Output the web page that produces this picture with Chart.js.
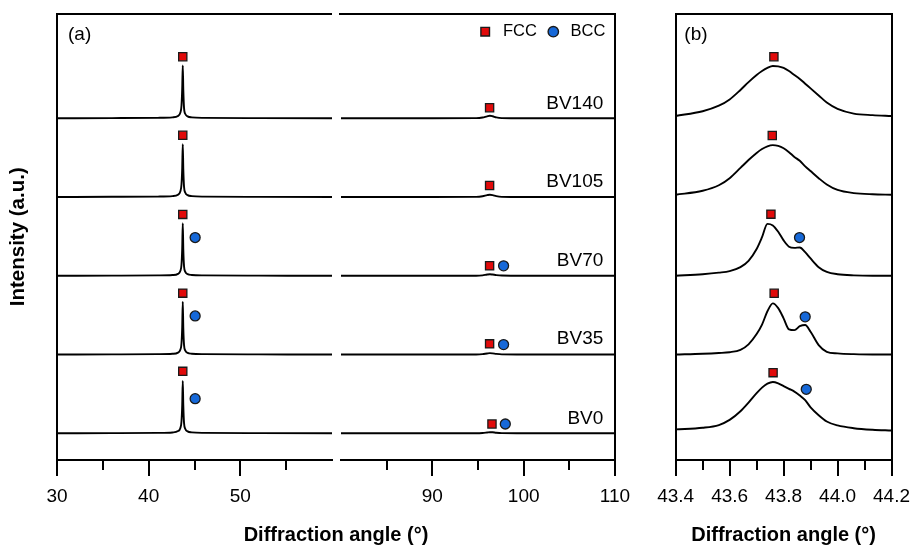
<!DOCTYPE html>
<html>
<head>
<meta charset="utf-8">
<script src="https://cdn.jsdelivr.net/npm/chart.js@4.4.0/dist/chart.umd.min.js"></script>
<style>
  html, body { margin: 0; padding: 0; background: #ffffff; }
  #wrap { position: relative; width: 919px; height: 545px; overflow: hidden; }
  #ca { position: absolute; left: 0; top: 0; }
  #cb { position: absolute; left: 640px; top: 0; }
</style>
</head>
<body>
<div id="wrap">
  <canvas id="ca" width="640" height="545"></canvas>
  <canvas id="cb" width="279" height="545"></canvas>
</div>
<script>
// ---------------- data ----------------
const samples = ['BV0', 'BV35', 'BV70', 'BV105', 'BV140'];
const offsets = [0, 1, 2, 3, 4];

// panel (a), low-angle segment (30-60 deg)
const angleLow = [30, 36, 41, 42.6, 43.2, 43.45, 43.58, 43.66, 43.72, 43.78, 43.86, 44.0, 44.25, 44.7, 46, 52, 60];
const lowBV0   = [0, 0.002, 0.005, 0.011, 0.028, 0.065, 0.15, 0.36, 0.664, 0.35, 0.13, 0.055, 0.024, 0.012, 0.005, 0.002, 0];
const lowBV35  = [0, 0.002, 0.005, 0.010, 0.025, 0.060, 0.14, 0.35, 0.670, 0.33, 0.12, 0.050, 0.022, 0.011, 0.005, 0.002, 0];
const lowBV70  = [0, 0.002, 0.005, 0.010, 0.025, 0.060, 0.14, 0.35, 0.668, 0.33, 0.12, 0.050, 0.022, 0.011, 0.005, 0.002, 0];
const lowBV105 = [0, 0.003, 0.006, 0.012, 0.030, 0.070, 0.16, 0.37, 0.670, 0.35, 0.13, 0.055, 0.025, 0.012, 0.005, 0.002, 0];
const lowBV140 = [0, 0.003, 0.006, 0.012, 0.030, 0.070, 0.16, 0.38, 0.670, 0.36, 0.13, 0.055, 0.025, 0.012, 0.005, 0.002, 0];

// panel (a), high-angle segment (80-110 deg)
const angleHigh = [80, 90, 94.8, 95.5, 96.0, 96.3, 96.6, 97.0, 97.6, 100, 110];
const highBV0   = [0, 0, 0.001, 0.004, 0.010, 0.014, 0.013, 0.007, 0.002, 0, 0];
const highBV35  = [0, 0, 0.001, 0.005, 0.014, 0.018, 0.015, 0.008, 0.002, 0, 0];
const highBV70  = [0, 0, 0.001, 0.006, 0.016, 0.020, 0.016, 0.009, 0.003, 0, 0];
const highBV105 = [0, 0, 0.002, 0.010, 0.024, 0.030, 0.025, 0.012, 0.003, 0, 0];
const highBV140 = [0, 0, 0.002, 0.010, 0.025, 0.032, 0.026, 0.012, 0.003, 0, 0];

// panel (b), zoom on the main peak
const angleZoom = [43.40, 43.50, 43.56, 43.60, 43.64, 43.67, 43.70, 43.72, 43.74, 43.76, 43.78, 43.80, 43.82, 43.84, 43.86, 43.88, 43.90, 43.93, 43.96, 44.00, 44.06, 44.13, 44.20];
const zoomBV0   = [0.05, 0.07, 0.105, 0.17, 0.28, 0.39, 0.51, 0.58, 0.63, 0.652, 0.635, 0.60, 0.565, 0.53, 0.48, 0.42, 0.33, 0.23, 0.15, 0.10, 0.065, 0.045, 0.035];
const zoomBV35  = [0.0, 0.01, 0.02, 0.03, 0.06, 0.13, 0.26, 0.38, 0.55, 0.65, 0.59, 0.46, 0.32, 0.31, 0.36, 0.375, 0.29, 0.12, 0.035, 0.015, 0.005, 0.0, 0.0];
const zoomBV70  = [0.0, 0.02, 0.04, 0.06, 0.11, 0.19, 0.34, 0.49, 0.66, 0.64, 0.56, 0.45, 0.37, 0.355, 0.36, 0.30, 0.22, 0.11, 0.05, 0.02, 0.005, 0.0, 0.0];
const zoomBV105 = [0.03, 0.08, 0.15, 0.24, 0.37, 0.47, 0.56, 0.61, 0.645, 0.66, 0.65, 0.62, 0.57, 0.51, 0.46, 0.39, 0.33, 0.24, 0.16, 0.09, 0.05, 0.035, 0.03];
const zoomBV140 = [0.03, 0.09, 0.16, 0.24, 0.36, 0.46, 0.55, 0.60, 0.64, 0.665, 0.66, 0.64, 0.60, 0.55, 0.50, 0.44, 0.38, 0.29, 0.20, 0.12, 0.06, 0.04, 0.03];

// phase markers (order BV0, BV35, BV70, BV105, BV140; BCC only for the first three)
const fccLowAngle   = [43.72, 43.72, 43.72, 43.72, 43.72];
const fccLowHeight  = [0.787, 0.78, 0.78, 0.785, 0.782];
const bccLowAngle   = [45.07, 45.07, 45.07];
const bccLowHeight  = [0.44, 0.49, 0.486];
const fccHighAngle  = [96.53, 96.27, 96.27, 96.27, 96.27];
const fccHighHeight = [0.118, 0.136, 0.127, 0.147, 0.135];
const bccHighAngle  = [97.99, 97.8, 97.8];
const bccHighHeight = [0.118, 0.127, 0.127];
const fccZoomAngle  = [43.761, 43.765, 43.753, 43.758, 43.764];
const fccZoomHeight = [0.77, 0.778, 0.783, 0.782, 0.782];
const bccZoomAngle  = [43.884, 43.88, 43.859];
const bccZoomHeight = [0.559, 0.479, 0.486];

// sample name labels
const labelAngle  = 108.72;
const labelHeight = [0.18, 0.2, 0.195, 0.198, 0.19];

// axis ranges / ticks
const lowRange  = [30, 60];
const highRange = [80, 110];
const zoomRange = [43.4, 44.2];
const intensityRange = [-0.339, 5.331];

// ---------------- helpers ----------------
const lowSeries  = [lowBV0, lowBV35, lowBV70, lowBV105, lowBV140];
const highSeries = [highBV0, highBV35, highBV70, highBV105, highBV140];
const zoomSeries = [zoomBV0, zoomBV35, zoomBV70, zoomBV105, zoomBV140];

const FONT = "'Liberation Sans', Arial, Helvetica, sans-serif";
const RED = '#e10a0a';
const BLUE = '#1668d8';
const EDGE = '#1a1a1a';
Chart.defaults.font.family = FONT;
Chart.defaults.color = '#000';

function traceData(angles, values, off) {
  return angles.map((a, i) => ({ x: a, y: off + values[i] }));
}
function markerData(angles, heights) {
  return angles.map((a, i) => ({ x: a, y: offsets[i] + heights[i] }));
}
function traceSet(data, xid) {
  return { type: 'line', data, xAxisID: xid, yAxisID: 'y', borderColor: '#000', borderWidth: 1.9,
           pointRadius: 0, fill: false, cubicInterpolationMode: 'monotone' };
}
function fccSet(data, xid) {
  return { type: 'line', data, xAxisID: xid, yAxisID: 'y', showLine: false, pointStyle: 'rect',
           pointRadius: 5.8, backgroundColor: RED, borderColor: EDGE, borderWidth: 1.3 };
}
function bccSet(data, xid) {
  return { type: 'line', data, xAxisID: xid, yAxisID: 'y', showLine: false, pointStyle: 'circle',
           pointRadius: 5, backgroundColor: BLUE, borderColor: EDGE, borderWidth: 1.3 };
}

const minorDash = (period) => (ctx) => {
  if (!ctx.tick) return [];
  const k = Math.round(ctx.tick.value / period);
  return k % 2 === 0 ? [] : [9, 40];
};

function bottomAxis(range, weight, hiddenEdge) {
  return {
    type: 'linear', axis: 'x', position: 'bottom', stack: 'bottom', stackWeight: weight,
    min: range[0], max: range[1],
    ticks: { stepSize: 5, autoSkip: false, maxRotation: 0, padding: 9, color: '#000', font: { size: 19 },
             callback: (v) => (v % 10 === 0 && v !== hiddenEdge) ? String(v) : '' },
    grid: { display: true, drawOnChartArea: false, drawTicks: true, tickLength: 16, tickWidth: 2, lineWidth: 2,
            tickColor: (ctx) => (ctx.tick && ctx.tick.value === hiddenEdge) ? 'rgba(0,0,0,0)' : '#000',
            tickBorderDash: minorDash(5) },
    border: { display: true, color: '#000', width: 2 },
    afterFit: (s) => { s.height = 60; }
  };
}
function frameAxis(position, stack, weight, showBorder) {
  return {
    type: 'linear', axis: (position === 'top' || position === 'bottom') ? 'x' : 'y', position, stack, stackWeight: weight,
    min: 0, max: 1,
    ticks: { display: false },
    grid: { display: showBorder, drawOnChartArea: false, drawTicks: false, lineWidth: 2 },
    border: { display: showBorder, color: '#000', width: 2 },
    afterFit: (s) => { if (position === 'top' || position === 'bottom') { s.height = (position === 'bottom') ? 60 : 0; } else { s.width = 0; } }
  };
}
function yAxis(position, width, title) {
  const ax = {
    type: 'linear', axis: 'y', position, min: intensityRange[0], max: intensityRange[1],
    ticks: { display: false },
    grid: { display: true, drawOnChartArea: false, drawTicks: false, lineWidth: 2 },
    border: { display: true, color: '#000', width: 2 },
    afterFit: (s) => { s.width = width; }
  };
  if (title) {
    ax.title = { display: true, text: title, color: '#000',
                 font: { size: 20.5, weight: 'bold', lineHeight: 1 }, padding: { top: 8, bottom: 0 } };
  }
  return ax;
}

// text annotations: panel letter, sample names, phase legend
const annotations = {
  id: 'annotations',
  afterDatasetsDraw(chart, args, opts) {
    const ctx = chart.ctx;
    const area = chart.chartArea;
    ctx.save();
    ctx.fillStyle = '#000';
    ctx.textBaseline = 'middle';
    ctx.textAlign = 'left';
    ctx.font = '19px ' + FONT;
    ctx.fillText(opts.panel, area.left + opts.panelDx, area.top + 21.5);
    if (opts.names) {
      const xs = chart.scales.xR, ys = chart.scales.y;
      ctx.textAlign = 'right';
      samples.forEach((s, i) => {
        ctx.fillText(s, xs.getPixelForValue(labelAngle), ys.getPixelForValue(offsets[i] + labelHeight[i]));
      });
    }
    if (opts.legend) {
      const cy = area.top + 18.2;
      const sx = area.right - 129.8;
      ctx.lineWidth = 1.4;
      ctx.strokeStyle = EDGE;
      ctx.fillStyle = RED;
      ctx.beginPath(); ctx.rect(sx - 4.3, cy - 4.3, 8.6, 8.6); ctx.fill(); ctx.stroke();
      const cx = area.right - 61.7;
      ctx.fillStyle = BLUE;
      ctx.beginPath(); ctx.arc(cx, cy, 5.2, 0, Math.PI * 2); ctx.fill(); ctx.stroke();
      ctx.fillStyle = '#000';
      ctx.textAlign = 'left';
      ctx.font = '16.5px ' + FONT;
      ctx.fillText('FCC', area.right - 112, cy);
      ctx.fillText('BCC', area.right - 44.5, cy);
    }
    ctx.restore();
  }
};

const common = {
  responsive: false, maintainAspectRatio: false, devicePixelRatio: 1, animation: false, events: []
};

// ---------------- panel (a) ----------------
const dsA = [];
dsA.push(fccSet(markerData(fccLowAngle, fccLowHeight), 'xL'));
dsA.push(bccSet(markerData(bccLowAngle, bccLowHeight), 'xL'));
dsA.push(fccSet(markerData(fccHighAngle, fccHighHeight), 'xR'));
dsA.push(bccSet(markerData(bccHighAngle, bccHighHeight), 'xR'));
samples.forEach((s, i) => {
  dsA.push(traceSet(traceData(angleLow, lowSeries[i], offsets[i]), 'xL'));
  dsA.push(traceSet(traceData(angleHigh, highSeries[i], offsets[i]), 'xR'));
});

new Chart(document.getElementById('ca'), {
  type: 'line',
  data: { datasets: dsA },
  options: Object.assign({}, common, {
    layout: { padding: { top: 13.5, left: 0, right: 25, bottom: 0 } },
    scales: {
      xL: bottomAxis(lowRange, 275, 60),
      xG: frameAxis('bottom', 'bottom', 9, false),
      xR: bottomAxis(highRange, 274, 80),
      tL: frameAxis('top', 'top', 275, true),
      tG: frameAxis('top', 'top', 9, false),
      tR: frameAxis('top', 'top', 274, true),
      y: yAxis('left', 57, 'Intensity (a.u.)'),
      yR: yAxis('right', 0, null)
    },
    plugins: {
      legend: { display: false },
      tooltip: { enabled: false },
      title: { display: true, position: 'bottom', fullSize: false, text: 'Diffraction angle (°)', color: '#000',
               font: { size: 20, weight: 'bold', lineHeight: 1 }, padding: { top: 5, bottom: 0 } },
      annotations: { panel: '(a)', panelDx: 11, names: true, legend: true }
    }
  }),
  plugins: [annotations]
});

// ---------------- panel (b) ----------------
const dsB = [];
dsB.push(fccSet(markerData(fccZoomAngle, fccZoomHeight), 'x'));
dsB.push(bccSet(markerData(bccZoomAngle, bccZoomHeight), 'x'));
samples.forEach((s, i) => {
  dsB.push(traceSet(traceData(angleZoom, zoomSeries[i], offsets[i]), 'x'));
});

new Chart(document.getElementById('cb'), {
  type: 'line',
  data: { datasets: dsB },
  options: Object.assign({}, common, {
    layout: { padding: { top: 13.5, left: 0, right: 21.3, bottom: 0 } },
    scales: {
      x: {
        type: 'linear', axis: 'x', position: 'bottom', min: zoomRange[0], max: zoomRange[1],
        ticks: { stepSize: 0.1, autoSkip: false, maxRotation: 0, padding: 9, color: '#000', font: { size: 19 },
                 callback: (v) => { const k = Math.round(v * 10); return k % 2 === 0 ? (k / 10).toFixed(1) : ''; } },
        grid: { display: true, drawOnChartArea: false, drawTicks: true, tickLength: 16, tickWidth: 2, lineWidth: 2,
                tickColor: '#000', tickBorderDash: minorDash(0.1) },
        border: { display: true, color: '#000', width: 2 },
        title: { display: true, text: 'Diffraction angle (°)', color: '#000',
                 font: { size: 20, weight: 'bold', lineHeight: 1 }, padding: { top: 0, bottom: 0 } },
        afterFit: (s) => { s.height = 85; }
      },
      xt: frameAxis('top', undefined, 1, true),
      y: yAxis('left', 35.7, null),
      yR: yAxis('right', 0, null)
    },
    plugins: {
      legend: { display: false },
      tooltip: { enabled: false },
      annotations: { panel: '(b)', panelDx: 8.6, names: false, legend: false }
    }
  }),
  plugins: [annotations]
});
</script>
</body>
</html>
